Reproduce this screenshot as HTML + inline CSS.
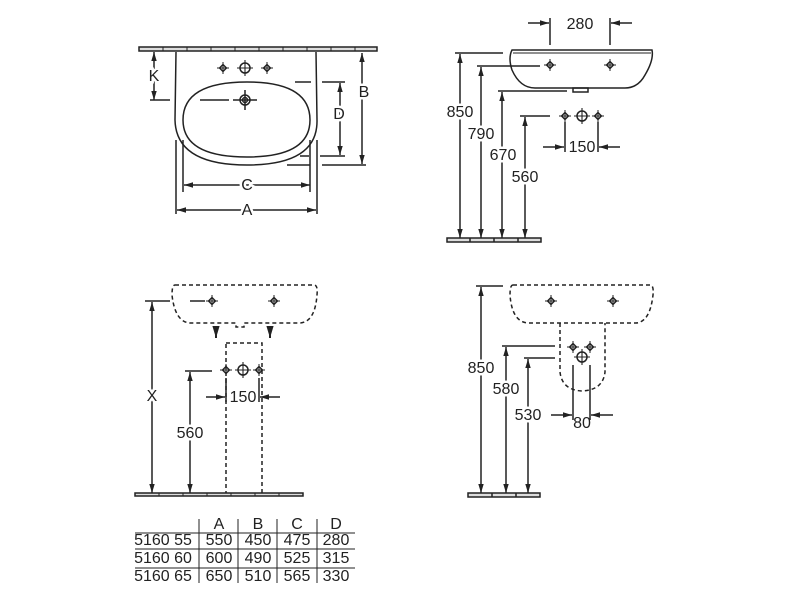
<!DOCTYPE html>
<html><head><meta charset="utf-8"><style>
html,body{margin:0;padding:0;background:#fff;}
svg{display:block;}
text{font-family:"Liberation Sans",sans-serif;font-size:16px;fill:#222;text-anchor:middle;dominant-baseline:middle;}
</style></head><body>
<svg width="800" height="601" viewBox="0 0 800 601" xmlns="http://www.w3.org/2000/svg">
<defs>
<marker id="a" viewBox="0 0 10 10" refX="10" refY="5" markerWidth="6" markerHeight="6" orient="auto-start-reverse"><path d="M0,2 L10,5 L0,8 z" fill="#222"/></marker>
<g id="h"><path d="M0,-3.5 L3.5,0 L0,3.5 L-3.5,0 Z" fill="none" stroke="#222" stroke-width="1.4"/><path d="M-6,0H6M0,-6V6" stroke="#222" stroke-width="1"/></g>
<g id="hb"><circle r="5" fill="none" stroke="#222" stroke-width="1.5"/><path d="M-8,0H8M0,-8V8" stroke="#222" stroke-width="1.1"/></g>
</defs>
<g stroke="#222" stroke-width="1.5" fill="none">
<!-- TOP LEFT -->
<rect x="139" y="47" width="238" height="4" fill="#ddd"/>
<path d="M163,47V51M187,47V51M211,47V51M235,47V51M259,47V51M283,47V51M307,47V51M331,47V51M355,47V51" stroke-width="1"/>
<path d="M176,52 L175,120 Q176,165 247,165 Q318,165 317,120 L316,52"/>
<path d="M183,120 Q183,82 247,82 Q310,82 310,120 Q310,157 247,157 Q183,157 183,120 Z"/>
<circle cx="245" cy="100" r="5"/><circle cx="245" cy="100" r="2.5"/>
<path d="M245,90V110M233,100H257M200,100H229"/>
<path d="M154,52V100" marker-start="url(#a)" marker-end="url(#a)"/>
<path d="M150,100H170"/>
<path d="M295,82H311M322,82H345M300,156H309M320,156H345M287,165H310M322,165H366"/>
<path d="M340,83V155" marker-start="url(#a)" marker-end="url(#a)"/>
<path d="M362,53V164" marker-start="url(#a)" marker-end="url(#a)"/>
<path d="M183,140V192M310,140V192M176,140V214M317,140V214"/>
<path d="M184,185H310" marker-start="url(#a)" marker-end="url(#a)"/>
<path d="M177,210H316" marker-start="url(#a)" marker-end="url(#a)"/>
<!-- TOP RIGHT -->
<path d="M512,50 L652,50 Q654,60 645,75 Q638,88 625,88 L535,88 Q520,88 512,70 Q508,58 512,50 Z"/>
<path d="M513,53H651" stroke-width="1"/>
<rect x="573" y="88" width="15" height="4"/>
<path d="M550,18V45M610,18V45"/>
<path d="M528,23H549" marker-end="url(#a)"/><path d="M632,23H611" marker-end="url(#a)"/>
<path d="M455,53H503M477,66H540M498,91H567M520,116H550"/>
<path d="M460,54V238" marker-start="url(#a)" marker-end="url(#a)"/>
<path d="M481,67V238" marker-start="url(#a)" marker-end="url(#a)"/>
<path d="M502,92V238" marker-start="url(#a)" marker-end="url(#a)"/>
<path d="M525,117V238" marker-start="url(#a)" marker-end="url(#a)"/>
<path d="M565,122V152M598,122V152"/>
<path d="M543,147H564" marker-end="url(#a)"/><path d="M620,147H599" marker-end="url(#a)"/>
<rect x="447" y="238" width="94" height="4" fill="#ddd"/>
<path d="M470,238V242M494,238V242M518,238V242"/>
<!-- BOTTOM LEFT -->
<path d="M175,285 H314 Q318,285 317,295 Q315,322 300,323 H244 V327 H236 V323 H190 Q175,322 172,295 Q172,285 175,285 Z" stroke-dasharray="4,3"/>
<rect x="226" y="343" width="36" height="152" stroke-dasharray="4,3"/>
<path d="M145,301H170M190,301H205M185,371H212"/>
<path d="M152,302V493" marker-start="url(#a)" marker-end="url(#a)"/>
<path d="M190,372V493" marker-start="url(#a)" marker-end="url(#a)"/>
<path d="M216,327V338" marker-end="url(#a)" stroke-width="2"/>
<path d="M270,327V338" marker-end="url(#a)" stroke-width="2"/>
<path d="M226,378V402M259,378V402"/>
<path d="M206,397H225" marker-end="url(#a)"/><path d="M280,397H260" marker-end="url(#a)"/>
<rect x="135" y="493" width="168" height="3" fill="#ddd"/>
<path d="M159,493V496M183,493V496M207,493V496M231,493V496M255,493V496M279,493V496" stroke-width="1"/>
<!-- BOTTOM RIGHT -->
<path d="M513,285 H650 Q654,285 653,295 Q650,322 636,323 H528 Q512,322 510,295 Q510,285 513,285 Z" stroke-dasharray="4,3"/>
<path d="M560,323 V372 Q562,390 582,391 Q603,390 605,372 V323" stroke-dasharray="4,3"/>
<path d="M476,286H503M502,346H555M524,358H555"/>
<path d="M481,287V493" marker-start="url(#a)" marker-end="url(#a)"/>
<path d="M506,347V493" marker-start="url(#a)" marker-end="url(#a)"/>
<path d="M528,359V493" marker-start="url(#a)" marker-end="url(#a)"/>
<path d="M573,365V420M590,365V420"/>
<path d="M551,415H572" marker-end="url(#a)"/><path d="M613,415H591" marker-end="url(#a)"/>
<rect x="468" y="493" width="72" height="4" fill="#ddd"/>
<path d="M492,493V497M516,493V497"/>
<!-- TABLE -->
<path d="M135,533H355M135,549H355M135,568H355" stroke-width="1"/>
<path d="M199,519V583M238,519V583M277,519V583M317,519V583" stroke-width="1"/>
</g>
<g>
<use href="#h" x="223" y="68"/><use href="#hb" x="245" y="68"/><use href="#h" x="267" y="68"/>
<use href="#h" x="550" y="65"/><use href="#h" x="610" y="65"/>
<use href="#h" x="565" y="116"/><use href="#hb" x="582" y="116"/><use href="#h" x="598" y="116"/>
<use href="#h" x="212" y="301"/><use href="#h" x="274" y="301"/>
<use href="#h" x="226" y="370"/><use href="#hb" x="243" y="370"/><use href="#h" x="259" y="370"/>
<use href="#h" x="551" y="301"/><use href="#h" x="613" y="301"/>
<use href="#h" x="573" y="347"/><use href="#h" x="590" y="347"/><use href="#hb" x="582" y="357"/>
</g>
<g>
<text x="154" y="77" style="paint-order:stroke;stroke:#fff;stroke-width:5px">K</text>
<text x="339" y="115" style="paint-order:stroke;stroke:#fff;stroke-width:5px">D</text>
<text x="364" y="93" style="paint-order:stroke;stroke:#fff;stroke-width:5px">B</text>
<text x="247" y="186" style="paint-order:stroke;stroke:#fff;stroke-width:5px">C</text>
<text x="247" y="211" style="paint-order:stroke;stroke:#fff;stroke-width:5px">A</text>
<text x="580" y="25">280</text>
<text x="460" y="113" style="paint-order:stroke;stroke:#fff;stroke-width:5px">850</text>
<text x="481" y="135" style="paint-order:stroke;stroke:#fff;stroke-width:5px">790</text>
<text x="503" y="156" style="paint-order:stroke;stroke:#fff;stroke-width:5px">670</text>
<text x="525" y="178" style="paint-order:stroke;stroke:#fff;stroke-width:5px">560</text>
<text x="582" y="148">150</text>
<text x="152" y="397" style="paint-order:stroke;stroke:#fff;stroke-width:5px">X</text>
<text x="190" y="434" style="paint-order:stroke;stroke:#fff;stroke-width:5px">560</text>
<text x="243" y="398">150</text>
<text x="481" y="369" style="paint-order:stroke;stroke:#fff;stroke-width:5px">850</text>
<text x="506" y="390" style="paint-order:stroke;stroke:#fff;stroke-width:5px">580</text>
<text x="528" y="416" style="paint-order:stroke;stroke:#fff;stroke-width:5px">530</text>
<text x="582" y="424">80</text>
</g>
<g style="font-size:15px">
<text x="219" y="525">A</text><text x="258" y="525">B</text><text x="297" y="525">C</text><text x="336" y="525">D</text>
<text x="163" y="541">5160 55</text><text x="219" y="541">550</text><text x="258" y="541">450</text><text x="297" y="541">475</text><text x="336" y="541">280</text>
<text x="163" y="559">5160 60</text><text x="219" y="559">600</text><text x="258" y="559">490</text><text x="297" y="559">525</text><text x="336" y="559">315</text>
<text x="163" y="577">5160 65</text><text x="219" y="577">650</text><text x="258" y="577">510</text><text x="297" y="577">565</text><text x="336" y="577">330</text>
</g>
</svg>
</body></html>
